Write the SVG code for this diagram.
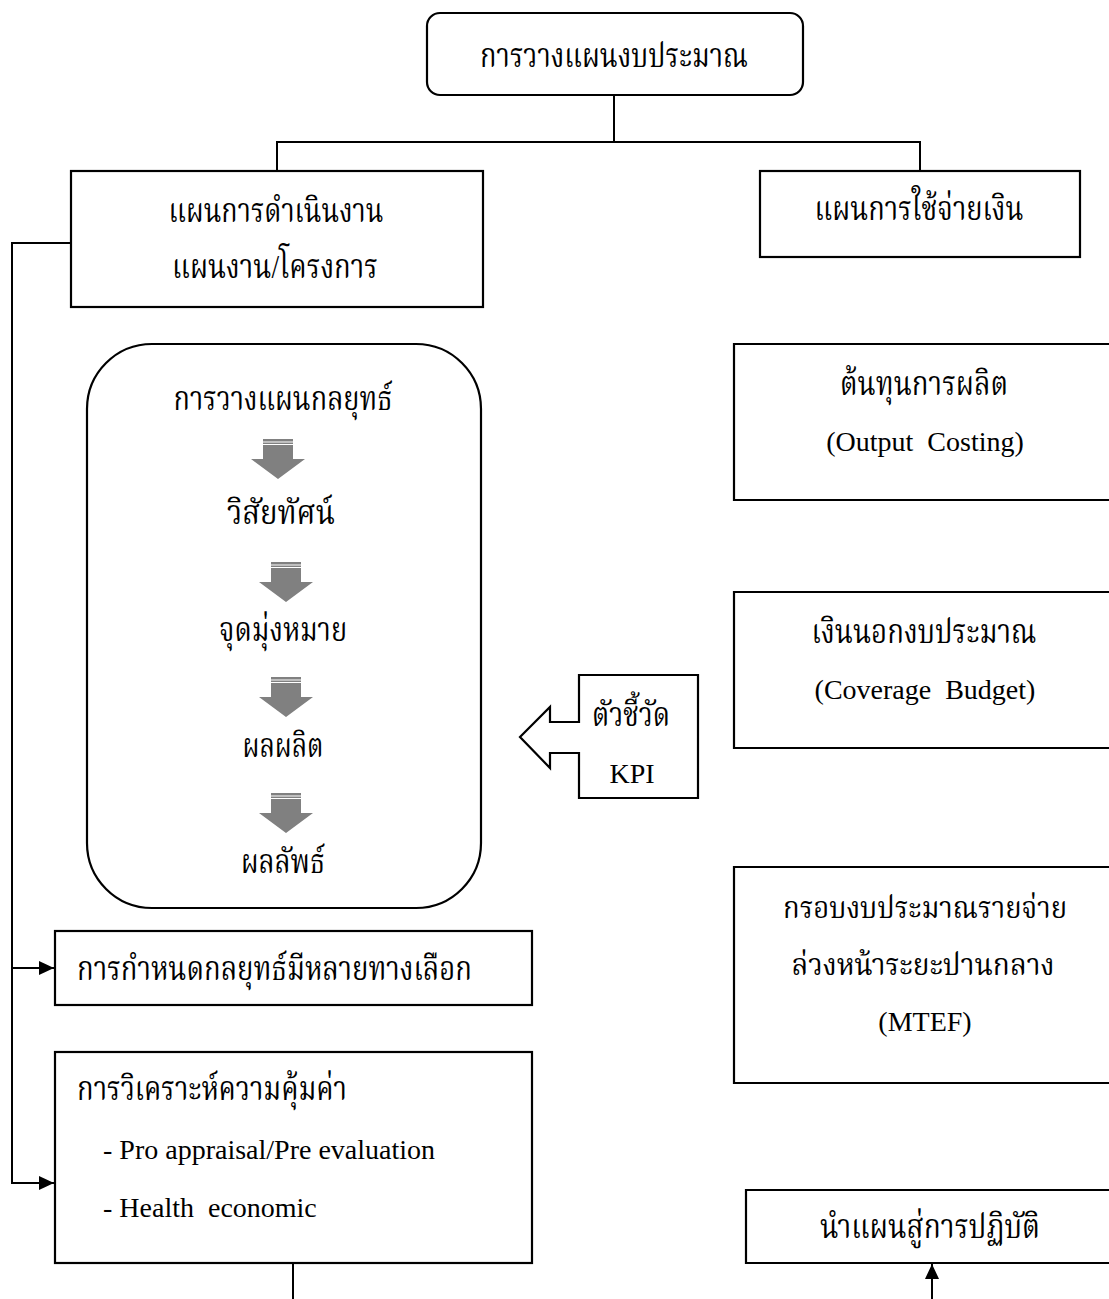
<svg xmlns="http://www.w3.org/2000/svg" xmlns:xlink="http://www.w3.org/1999/xlink" width="1109" height="1299" viewBox="0 0 1109 1299">
<style>
.box{fill:#fff;stroke:#000;stroke-width:2.2}
.ln{fill:none;stroke:#000;stroke-width:2}
.th{font-family:"Liberation Serif","Noto Serif Thai","Noto Sans Thai",serif;font-size:33px;fill:#000}
.sm{font-size:30px}
.en{font-family:"Liberation Serif",serif;font-size:28px;fill:#000;white-space:pre}
.c{text-anchor:middle}
</style>
<defs>
<marker id="ah" viewBox="0 0 15 14" refX="15" refY="7" markerWidth="15" markerHeight="14" markerUnits="userSpaceOnUse" orient="auto">
<path d="M0,0 L15,7 L0,14 Z" fill="#000"/>
</marker>
<g id="garr" fill="#808080">
<rect x="-15" y="0" width="30" height="2.5"/>
<rect x="-15" y="3.5" width="30" height="1.5"/>
<polygon points="-15,6 15,6 15,20 27,20 0,40 -27,20 -15,20"/>
</g>
</defs>
<rect width="1109" height="1299" fill="#fff"/>

<g id="connectors">
<path class="ln" d="M614,95 V142 M277,171 V142 H920 V171"/>
<path class="ln" d="M71,243 H12 V1183 H54" marker-end="url(#ah)"/>
<path class="ln" d="M12,968 H54" marker-end="url(#ah)"/>
<path class="ln" d="M293,1263 V1299"/>
<path class="ln" d="M932,1299 V1264" marker-end="url(#ah)"/>
</g>

<g id="n-budget-plan">
<rect class="box" x="427" y="13" width="376" height="82" rx="13"/>
<text class="th c" x="614" y="67" textLength="268" lengthAdjust="spacingAndGlyphs">การวางแผนงบประมาณ</text>
</g>

<g id="n-operation-plan">
<rect class="box" x="71" y="171" width="412" height="136"/>
<text class="th c" x="276" y="222" textLength="215" lengthAdjust="spacingAndGlyphs">แผนการดำเนินงาน</text>
<text class="th c" x="275" y="278" textLength="206" lengthAdjust="spacingAndGlyphs">แผนงาน/โครงการ</text>
</g>

<g id="n-spending-plan">
<rect class="box" x="760" y="171" width="320" height="86"/>
<text class="th c" x="919" y="220" textLength="209" lengthAdjust="spacingAndGlyphs">แผนการใช้จ่ายเงิน</text>
</g>

<g id="n-strategy">
<rect class="box" x="87" y="344" width="394" height="564" rx="65"/>
<text class="th c" x="283" y="410" textLength="219" lengthAdjust="spacingAndGlyphs">การวางแผนกลยุทธ์</text>
<use xlink:href="#garr" href="#garr" transform="translate(278,439)"/>
<text class="th c" x="281" y="524" textLength="108" lengthAdjust="spacingAndGlyphs">วิสัยทัศน์</text>
<use xlink:href="#garr" href="#garr" transform="translate(286,562)"/>
<text class="th c" x="283" y="641" textLength="128" lengthAdjust="spacingAndGlyphs">จุดมุ่งหมาย</text>
<use xlink:href="#garr" href="#garr" transform="translate(286,677)"/>
<text class="th c" x="283" y="757" textLength="81" lengthAdjust="spacingAndGlyphs">ผลผลิต</text>
<use xlink:href="#garr" href="#garr" transform="translate(286,793)"/>
<text class="th c" x="283" y="873" textLength="84" lengthAdjust="spacingAndGlyphs">ผลลัพธ์</text>
</g>

<g id="n-kpi">
<polygon class="box" points="579,675 698,675 698,798 579,798 579,753 550,753 550,768 520,737 550,707 550,722 579,722"/>
<text class="th c" x="631" y="726" textLength="78" lengthAdjust="spacingAndGlyphs">ตัวชี้วัด</text>
<text class="en c" x="632" y="783">KPI</text>
</g>

<g id="n-output-costing">
<path class="box" d="M1109,344 H734 V500 H1109"/>
<text class="th c" x="924" y="395" textLength="168" lengthAdjust="spacingAndGlyphs">ต้นทุนการผลิต</text>
<text class="en c" x="925" y="451">(Output  Costing)</text>
</g>

<g id="n-coverage-budget">
<path class="box" d="M1109,592 H734 V748 H1109"/>
<text class="th c" x="924" y="643" textLength="225" lengthAdjust="spacingAndGlyphs">เงินนอกงบประมาณ</text>
<text class="en c" x="925" y="699">(Coverage  Budget)</text>
</g>

<g id="n-mtef">
<path class="box" d="M1109,867 H734 V1083 H1109"/>
<text class="th sm c" x="925" y="918" textLength="284" lengthAdjust="spacingAndGlyphs">กรอบงบประมาณรายจ่าย</text>
<text class="th sm c" x="923" y="975" textLength="263" lengthAdjust="spacingAndGlyphs">ล่วงหน้าระยะปานกลาง</text>
<text class="en c" x="925" y="1031">(MTEF)</text>
</g>

<g id="n-implement">
<path class="box" d="M1109,1190 H746 V1263 H1109"/>
<text class="th c" x="930" y="1238" textLength="220" lengthAdjust="spacingAndGlyphs">นำแผนสู่การปฏิบัติ</text>
</g>

<g id="n-alternatives">
<rect class="box" x="55" y="931" width="477" height="74"/>
<text class="th" x="77" y="980" textLength="395" lengthAdjust="spacingAndGlyphs">การกำหนดกลยุทธ์มีหลายทางเลือก</text>
</g>

<g id="n-value-analysis">
<rect class="box" x="55" y="1052" width="477" height="211"/>
<text class="th" x="77" y="1100" textLength="270" lengthAdjust="spacingAndGlyphs">การวิเคราะห์ความคุ้มค่า</text>
<text class="en" x="103" y="1159">- Pro appraisal/Pre evaluation</text>
<text class="en" x="103" y="1217">- Health  economic</text>
</g>
</svg>
